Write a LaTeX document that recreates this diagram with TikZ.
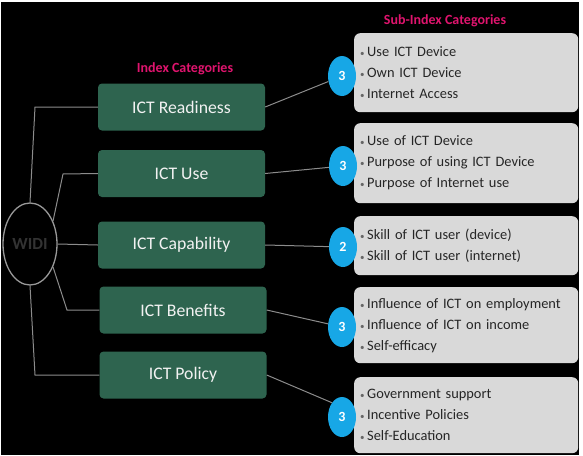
\documentclass[tikz,border=0pt]{standalone}
\usepackage{fontspec}
\setmainfont{Carlito}
\usetikzlibrary{shapes.geometric}
\definecolor{boxgreen}{HTML}{2E644F}
\definecolor{boxgray}{HTML}{D9D9D9}
\definecolor{numblue}{HTML}{17A7E6}
\definecolor{hdrpink}{HTML}{E0146E}
\definecolor{linegray}{HTML}{8C8C8C}
\newcommand{\subbul}{{\color{black!60}\fontsize{9}{9}\selectfont\textbullet}\hspace{2.5pt}}
\begin{document}
\begin{tikzpicture}[x=1pt,y=-1pt,
 catbox/.style={fill=boxgreen, rounded corners=4pt, minimum width=167pt, minimum height=47pt, text=white!90!gray, font=\fontsize{17.7}{20}\selectfont, inner sep=0pt},
 subbox/.style={fill=boxgray, rounded corners=6pt, minimum width=224pt, anchor=north west, inner xsep=6pt, inner ysep=0pt, text width=212pt, align=left, font=\fontsize{14.4}{21}\selectfont, text=black!85},
 num/.style={ellipse, fill=numblue, minimum width=28pt, minimum height=40pt, inner sep=0pt, text=white, font=\bfseries\fontsize{14}{14}\selectfont},
 hdr/.style={text=hdrpink, font=\bfseries\fontsize{14}{16}\selectfont},
 link/.style={draw=linegray, line width=1pt},
 hub/.style={ellipse, draw=gray!80, line width=1.3pt, minimum width=54pt, minimum height=82pt, inner sep=0pt, text=black!80, font=\bfseries\fontsize{17}{17}\selectfont}
]
\useasboundingbox (0,0) rectangle (583,455);
\fill[white] (0,0) rectangle (583,455);
\fill[black] (1,2) rectangle (579,455);

% headers
\node[hdr] (h1) at (185,69) {Index Categories};
\node[hdr] (h2) at (445,21) {Sub-Index Categories};

% hub
\node[hub] (w) at (30,244) {WIDI};

% categories
\node[catbox] (r) at (181.5,107) {ICT Readiness};
\node[catbox] (u) at (181.5,173.5) {ICT Use};
\node[catbox] (c) at (181.5,245) {ICT Capability};
\node[catbox] (b) at (183,310) {ICT Benefits};
\node[catbox] (p) at (183,375) {ICT Policy};

% sub-index boxes
\node[subbox, minimum height=79pt] (s1) at (354,33) {\subbul Use ICT Device\\\subbul Own ICT Device\\\subbul Internet Access};
\node[subbox, minimum height=80pt] (s2) at (354,123) {\subbul Use of ICT Device\\\subbul Purpose of using ICT Device\\\subbul Purpose of Internet use};
\node[subbox, minimum height=59pt] (s3) at (354,216) {\subbul Skill of ICT user (device)\\\subbul Skill of ICT user (internet)};
\node[subbox, minimum height=76pt] (s4) at (354,287) {\subbul Influence of ICT on employment\\\subbul Influence of ICT on income\\\subbul Self-efficacy};
\node[subbox, minimum height=76pt] (s5) at (354,377) {\subbul Government support\\\subbul Incentive Policies\\\subbul Self-Education};

% count circles
\node[num] (n1) at (342,76) {3};
\node[num] (n2) at (343,166) {3};
\node[num] (n3) at (343,247) {2};
\node[num] (n4) at (342,327) {3};
\node[num] (n5) at (342,417) {3};

% hub links
\coordinate (k1) at (35,107);
\coordinate (k2) at (63,174);
\coordinate (k4) at (67,310);
\coordinate (k5) at (35,375);
\draw[link] (w.north) -- (k1) -- (r.west);
\draw[link] (w.45) -- (k2) -- (u.west);
\draw[link] (w.east) -- (c.west);
\draw[link] (w.-45) -- (k4) -- (b.west);
\draw[link] (w.south) -- (k5) -- (p.west);

% category to count links
\draw[link] (r.east) -- (n1);
\draw[link] (u.east) -- (n2);
\draw[link] (c.east) -- (n3);
\draw[link] (b.east) -- (n4);
\draw[link] (p.east) -- (n5.north west);
\end{tikzpicture}
\end{document}
